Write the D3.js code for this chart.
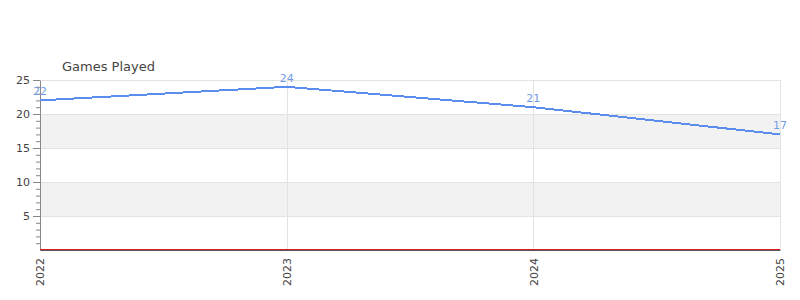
<!DOCTYPE html>
<html>
<head>
<meta charset="utf-8">
<script src="https://cdn.jsdelivr.net/npm/d3@7"></script>
<style>
  body { margin: 0; background: #fff; }
  text { font-family: "DejaVu Sans", sans-serif; }
</style>
</head>
<body>
<div id="chart"></div>
<script>
var years = [2022, 2023, 2024, 2025],
    gamesPlayed = [22, 24, 21, 17],
    yTicks = [5, 10, 15, 20, 25],
    title = "Games Played";

var chartWidth = 800,
    chartHeight = 300,
    margin = {top: 80, right: 20, bottom: 50, left: 40},
    width = chartWidth - margin.left - margin.right,
    height = chartHeight - margin.top - margin.bottom;

var svg = d3.select("#chart").append("svg")
    .attr("width", chartWidth)
    .attr("height", chartHeight);

var g = svg.append("g")
    .attr("transform", "translate(" + margin.left + "," + margin.top + ")");

var x = d3.scalePoint().domain(years).range([0, width]);
var y = d3.scaleLinear().domain([0, 25]).range([height, 0]);

// bandas grises
[[5, 10], [15, 20]].forEach(function (b) {
  g.append("rect")
    .attr("x", 0).attr("width", width)
    .attr("y", y(b[1])).attr("height", y(b[0]) - y(b[1]))
    .attr("fill", "#f2f2f2");
});

// rejilla horizontal
g.selectAll(".hgrid").data(yTicks).enter().append("line")
  .attr("x1", 0).attr("x2", width)
  .attr("y1", d => Math.round(y(d)) + 0.5).attr("y2", d => Math.round(y(d)) + 0.5)
  .attr("stroke", "#e3e3e3");

// rejilla vertical
g.selectAll(".vgrid").data(years.slice(1)).enter().append("line")
  .attr("x1", d => Math.round(x(d)) + 0.5).attr("x2", d => Math.round(x(d)) + 0.5)
  .attr("y1", 0).attr("y2", height)
  .attr("stroke", "#e3e3e3");

// eje y con ticks menores
var minor = d3.range(1, 25);
g.append("g")
  .call(d3.axisLeft(y).tickValues(minor).tickSize(4).tickFormat(""))
  .call(s => s.selectAll("line").attr("stroke", "#888"))
  .call(s => s.select(".domain").remove());

g.append("g")
  .call(d3.axisLeft(y).tickValues(yTicks).tickSize(7).tickSizeOuter(0).tickPadding(3))
  .call(s => s.selectAll("line, path").attr("stroke", "#888"))
  .call(s => s.selectAll("text").attr("fill", "#444").style("font-size", "11px"));

// eje x
var xAxis = g.append("g")
  .attr("transform", "translate(0," + height + ")")
  .call(d3.axisBottom(x).tickSize(0).tickPadding(8));
xAxis.select(".domain").attr("stroke", "#555").attr("stroke-width", 1);
xAxis.selectAll("text")
  .attr("fill", "#444")
  .style("font-size", "11px")
  .attr("transform", "rotate(-90)")
  .attr("text-anchor", "end")
  .attr("x", -8)
  .attr("y", 0)
  .attr("dy", "0.35em");

g.append("line")
  .attr("x1", 0).attr("x2", width)
  .attr("y1", height - 0.5).attr("y2", height - 0.5)
  .attr("stroke", "#e02020");

// borde derecho
g.append("line")
  .attr("x1", width + 0.5).attr("x2", width + 0.5)
  .attr("y1", 0).attr("y2", height)
  .attr("stroke", "#e3e3e3");

// linea
var line = d3.line()
  .x((d, i) => x(years[i]))
  .y(d => y(d));

g.append("path")
  .datum(gamesPlayed)
  .attr("d", line)
  .attr("fill", "none")
  .attr("stroke", "#5b8def")
  .attr("stroke-width", 2)
  .attr("shape-rendering", "crispEdges");

// etiquetas de valores
g.selectAll(".lbl").data(gamesPlayed).enter().append("text")
  .attr("x", (d, i) => x(years[i]))
  .attr("y", d => y(d) - 5)
  .attr("text-anchor", "middle")
  .attr("fill", "#6f9de8")
  .style("font-size", "11px")
  .text(d => d);

// titulo
svg.append("text")
  .attr("x", 62).attr("y", 71)
  .attr("fill", "#444")
  .style("font-size", "13px")
  .text(title);
</script>
</body>
</html>
